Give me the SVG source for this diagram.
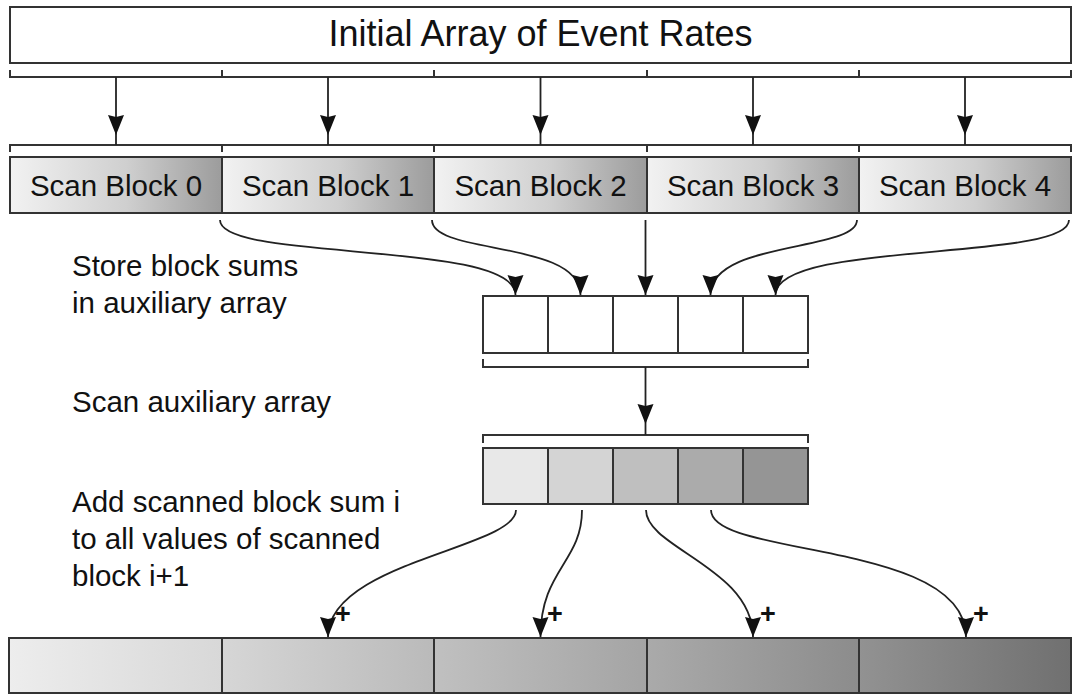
<svg xmlns="http://www.w3.org/2000/svg" width="1073" height="695" viewBox="0 0 1073 695">
  <defs>
    <style>
      .box { stroke: #333; stroke-width: 2; }
      .brk { fill: none; stroke: #333; stroke-width: 2; }
      .wire { fill: none; stroke: #222; stroke-width: 1.8; }
      .lbl { font-family: "Liberation Sans", Arial, sans-serif; fill: #111; }
      .title { font-size: 36px; text-anchor: middle; }
      .blk { font-size: 29.5px; text-anchor: middle; }
      .note { font-size: 29.5px; }
      .plus { font-size: 27px; font-weight: bold; }
    </style>
    <marker id="ah" viewBox="0 -9 21 18" refX="20" refY="0" markerWidth="21" markerHeight="18" markerUnits="userSpaceOnUse" orient="auto">
      <path d="M0,-8 L20,0 L0,8 L2,0 Z" fill="#111"/>
    </marker>
    <linearGradient id="gScan" x1="0" y1="0" x2="1" y2="0">
      <stop offset="0" stop-color="#f2f2f2"/>
      <stop offset="0.55" stop-color="#cfcfcf"/>
      <stop offset="1" stop-color="#9c9c9c"/>
    </linearGradient>
    <linearGradient id="gOut0" x1="0" y1="0" x2="1" y2="0">
      <stop offset="0" stop-color="#ededed"/>
      <stop offset="1" stop-color="#d8d8d8"/>
    </linearGradient>
    <linearGradient id="gOut1" x1="0" y1="0" x2="1" y2="0">
      <stop offset="0" stop-color="#d6d6d6"/>
      <stop offset="1" stop-color="#bababa"/>
    </linearGradient>
    <linearGradient id="gOut2" x1="0" y1="0" x2="1" y2="0">
      <stop offset="0" stop-color="#c0c0c0"/>
      <stop offset="1" stop-color="#a4a4a4"/>
    </linearGradient>
    <linearGradient id="gOut3" x1="0" y1="0" x2="1" y2="0">
      <stop offset="0" stop-color="#aaaaaa"/>
      <stop offset="1" stop-color="#8c8c8c"/>
    </linearGradient>
    <linearGradient id="gOut4" x1="0" y1="0" x2="1" y2="0">
      <stop offset="0" stop-color="#929292"/>
      <stop offset="1" stop-color="#707070"/>
    </linearGradient>
  </defs>

  <rect width="1073" height="695" fill="#ffffff"/>

  <!-- input array -->
  <g id="input-array">
    <rect class="box" x="10" y="7" width="1061" height="56" fill="#ffffff"/>
    <text class="lbl title" x="540.5" y="46">Initial Array of Event Rates</text>
  </g>

  <!-- partition brackets: upper set under the input, lower set over the blocks -->
  <g id="partition-brackets">
    <path class="brk" d="M10,70 V77 H222 V70 M222,77 H434 V70 M434,77 H647 V70 M647,77 H859 V70 M859,77 H1071 V70"/>
    <path class="brk" d="M10,152 V145 H222 V152 M222,145 H434 V152 M434,145 H647 V152 M647,145 H859 V152 M859,145 H1071 V152"/>
  </g>

  <!-- scan blocks -->
  <g id="scan-block-0">
    <rect class="box" x="10" y="157" width="212" height="56" fill="url(#gScan)"/>
    <text class="lbl blk" x="116" y="196">Scan Block 0</text>
  </g>
  <g id="scan-block-1">
    <rect class="box" x="222" y="157" width="212" height="56" fill="url(#gScan)"/>
    <text class="lbl blk" x="328" y="196">Scan Block 1</text>
  </g>
  <g id="scan-block-2">
    <rect class="box" x="434" y="157" width="213" height="56" fill="url(#gScan)"/>
    <text class="lbl blk" x="540.5" y="196">Scan Block 2</text>
  </g>
  <g id="scan-block-3">
    <rect class="box" x="647" y="157" width="212" height="56" fill="url(#gScan)"/>
    <text class="lbl blk" x="753" y="196">Scan Block 3</text>
  </g>
  <g id="scan-block-4">
    <rect class="box" x="859" y="157" width="212" height="56" fill="url(#gScan)"/>
    <text class="lbl blk" x="965" y="196">Scan Block 4</text>
  </g>

  <!-- auxiliary array of block sums -->
  <g id="aux-array">
    <rect class="box" x="483" y="296" width="65" height="57" fill="#ffffff"/>
    <rect class="box" x="548" y="296" width="65" height="57" fill="#ffffff"/>
    <rect class="box" x="613" y="296" width="65" height="57" fill="#ffffff"/>
    <rect class="box" x="678" y="296" width="65" height="57" fill="#ffffff"/>
    <rect class="box" x="743" y="296" width="65" height="57" fill="#ffffff"/>
    <path class="brk" d="M483,359 V367 H808 V359"/>
  </g>

  <!-- scanned auxiliary array -->
  <g id="scanned-aux-array">
    <path class="brk" d="M483,443 V435 H808 V443"/>
    <rect class="box" x="483" y="448" width="65" height="56" fill="#e8e8e8"/>
    <rect class="box" x="548" y="448" width="65" height="56" fill="#d4d4d4"/>
    <rect class="box" x="613" y="448" width="65" height="56" fill="#bfbfbf"/>
    <rect class="box" x="678" y="448" width="65" height="56" fill="#ababab"/>
    <rect class="box" x="743" y="448" width="65" height="56" fill="#959595"/>
  </g>

  <!-- output array -->
  <g id="output-array">
    <rect class="box" x="9" y="638" width="213" height="55" fill="url(#gOut0)"/>
    <rect class="box" x="222" y="638" width="212" height="55" fill="url(#gOut1)"/>
    <rect class="box" x="434" y="638" width="213" height="55" fill="url(#gOut2)"/>
    <rect class="box" x="647" y="638" width="212" height="55" fill="url(#gOut3)"/>
    <rect class="box" x="859" y="638" width="212" height="55" fill="url(#gOut4)"/>
  </g>

  <!-- step notes -->
  <g id="notes">
    <text class="lbl note" x="72" y="276">Store block sums</text>
    <text class="lbl note" x="72" y="313">in auxiliary array</text>
    <text class="lbl note" x="72" y="412">Scan auxiliary array</text>
    <text class="lbl note" x="72" y="512">Add scanned block sum i</text>
    <text class="lbl note" x="72" y="549">to all values of scanned</text>
    <text class="lbl note" x="72" y="586">block i+1</text>
  </g>

  <!-- connectors -->
  <g id="connectors">
    <!-- split input into blocks -->
    <path class="wire" d="M116,77 V135" marker-end="url(#ah)"/>
    <path class="wire" d="M116,135 V145"/>
    <path class="wire" d="M328,77 V135" marker-end="url(#ah)"/>
    <path class="wire" d="M328,135 V145"/>
    <path class="wire" d="M540.5,77 V135" marker-end="url(#ah)"/>
    <path class="wire" d="M540.5,135 V145"/>
    <path class="wire" d="M753,77 V135" marker-end="url(#ah)"/>
    <path class="wire" d="M753,135 V145"/>
    <path class="wire" d="M965,77 V135" marker-end="url(#ah)"/>
    <path class="wire" d="M965,135 V145"/>

    <!-- block sums into auxiliary array -->
    <path class="wire" d="M220,220 C220,262 515.5,240 515.5,295" marker-end="url(#ah)"/>
    <path class="wire" d="M432,220 C432,255 580.5,240 580.5,295" marker-end="url(#ah)"/>
    <path class="wire" d="M645.5,220 V295" marker-end="url(#ah)"/>
    <path class="wire" d="M857,220 C857,252 710.5,240 710.5,295" marker-end="url(#ah)"/>
    <path class="wire" d="M1069,220 C1069,262 775.5,240 775.5,295" marker-end="url(#ah)"/>

    <!-- scan of auxiliary array -->
    <path class="wire" d="M645.5,367 V424" marker-end="url(#ah)"/>
    <path class="wire" d="M645.5,424 V435"/>

    <!-- add scanned sums to following blocks -->
    <path class="wire" d="M516,510 C516,548 328,562 328,637" marker-end="url(#ah)"/>
    <path class="wire" d="M582,510 C582,562 540.5,570 540.5,637" marker-end="url(#ah)"/>
    <path class="wire" d="M646,510 C646,548 753,568 753,637" marker-end="url(#ah)"/>
    <path class="wire" d="M711,510 C711,558 966,540 966,637" marker-end="url(#ah)"/>
  </g>

  <g id="plus-signs">
    <text class="lbl plus" x="335" y="623">+</text>
    <text class="lbl plus" x="547" y="623">+</text>
    <text class="lbl plus" x="760" y="623">+</text>
    <text class="lbl plus" x="973" y="623">+</text>
  </g>
</svg>
